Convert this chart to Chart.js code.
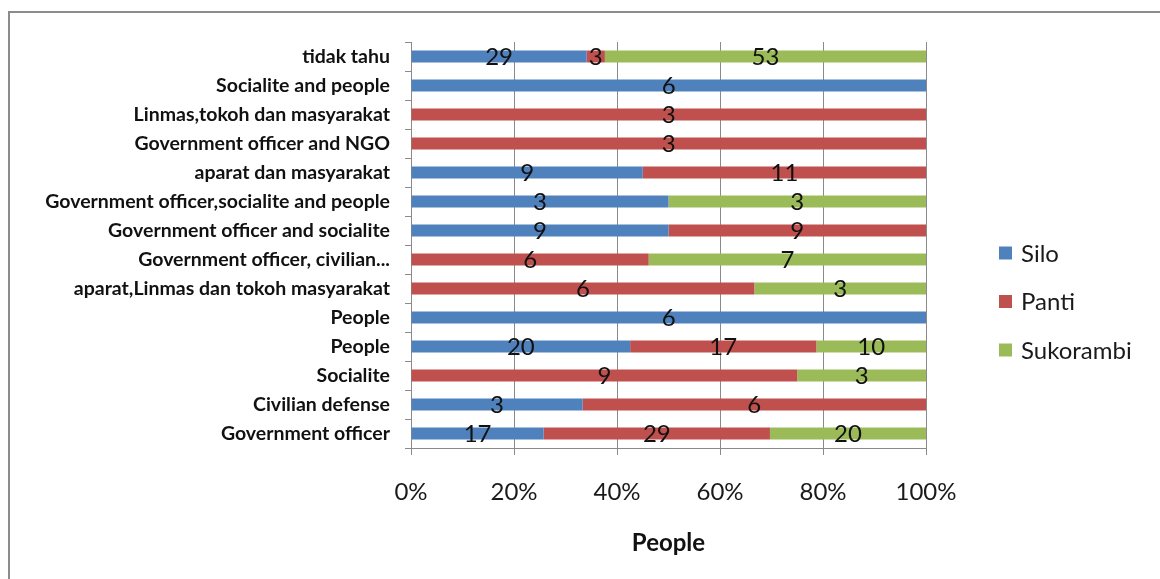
<!DOCTYPE html>
<html>
<head>
<meta charset="utf-8">
<script src="https://cdn.jsdelivr.net/npm/chart.js@4.4.1/dist/chart.umd.min.js"></script>
<style>
  html, body { margin: 0; padding: 0; background: #fff; overflow: hidden; }
  #wrap { position: relative; width: 1160px; height: 579px; }
  #frame { position: absolute; left: 8px; top: 11px; width: 1220px; height: 640px;
           border-left: 2px solid #8c8c8c; border-top: 2px solid #8c8c8c; box-sizing: border-box; }
  canvas { position: absolute; left: 0; top: 0; }
</style>
</head>
<body>
<div id="wrap">
  <div id="frame"></div>
  <canvas id="chart" width="1160" height="579"></canvas>
</div>
<script>
// Categories, listed from the top row down
const categories = [
  'tidak tahu',
  'Socialite and people',
  'Linmas,tokoh dan masyarakat',
  'Government officer and NGO',
  'aparat dan masyarakat',
  'Government officer,socialite and people',
  'Government officer and socialite',
  'Government officer, civilian...',
  'aparat,Linmas dan tokoh masyarakat',
  'People',
  'People',
  'Socialite',
  'Civilian defense',
  'Government officer'
];

// Counts per village (null = no answer in that village)
const silo      = [29, 6, null, null, 9, 3, 9, null, null, 6, 20, null, 3, 17];
const panti     = [3, null, 3, 3, 11, null, 9, 6, 6, null, 17, 9, 6, 29];
const sukorambi = [53, null, null, null, null, 3, null, 7, 3, null, 10, 3, null, 20];

const seriesNames = ['Silo', 'Panti', 'Sukorambi'];
const xTickValues = [0, 20, 40, 60, 80, 100];
const axisTitle = 'People';

const colors = ['#4F81BD', '#C0504D', '#9BBB59'];
const FONT = 'Lato';
const seriesCounts = [silo, panti, sukorambi];

// Row totals for the 100% stacking
const totals = categories.map((_, i) =>
  seriesCounts.reduce((s, arr) => s + (arr[i] || 0), 0));
const toShare = arr => arr.map((v, i) => v == null ? null : v / totals[i] * 100);

// Value labels centred on each segment
const valueLabels = {
  id: 'valueLabels',
  afterDatasetsDraw(chart) {
    const ctx = chart.ctx;
    ctx.save();
    ctx.font = `24px ${FONT}`;
    ctx.fillStyle = '#111';
    ctx.textAlign = 'center';
    ctx.textBaseline = 'alphabetic';
    chart.data.datasets.forEach((ds, di) => {
      const meta = chart.getDatasetMeta(di);
      meta.data.forEach((bar, i) => {
        const v = ds.counts[i];
        if (v == null) return;
        const cx = (bar.x + bar.base) / 2;
        ctx.fillText(String(v), cx, bar.y + 8.5);
      });
    });
    ctx.restore();
  }
};

// Legend column to the right of the plot
const sideLegend = {
  id: 'sideLegend',
  afterDraw(chart) {
    const ctx = chart.ctx;
    const ca = chart.chartArea;
    const mid = (ca.top + ca.bottom) / 2;
    ctx.save();
    ctx.font = `24px ${FONT}`;
    ctx.textAlign = 'left';
    ctx.textBaseline = 'alphabetic';
    chart.data.datasets.forEach((ds, i) => {
      const cy = mid + 8 + i * 48.5;
      ctx.fillStyle = ds.backgroundColor;
      ctx.fillRect(ca.right + 73, cy - 6.5, 13, 13);
      ctx.fillStyle = '#1a1a1a';
      ctx.fillText(ds.label, ca.right + 95, cy + 8.5);
    });
    ctx.restore();
  }
};

function build() {
  const datasets = seriesCounts.map((arr, k) => ({
    label: seriesNames[k],
    data: toShare(arr),
    counts: arr,
    backgroundColor: colors[k],
    borderWidth: 0,
    barPercentage: 0.41,
    categoryPercentage: 1.0
  }));

  new Chart(document.getElementById('chart'), {
    type: 'bar',
    data: { labels: categories, datasets },
    options: {
      indexAxis: 'y',
      responsive: false,
      animation: false,
      layout: { padding: { left: 0, right: 234, top: 42, bottom: 0 } },
      plugins: { legend: { display: false }, tooltip: { enabled: false } },
      scales: {
        x: {
          stacked: true,
          min: 0,
          max: 100,
          afterBuildTicks(scale) { scale.ticks = xTickValues.map(v => ({ value: v })); },
          afterFit(scale) { scale.height = 131; },
          ticks: {
            callback: v => v + '%',
            font: { family: FONT, size: 24 },
            color: '#1a1a1a',
            padding: 23,
            maxRotation: 0
          },
          grid: { color: '#8a8a8a', lineWidth: 1, tickLength: 7 },
          border: { color: '#8a8a8a', width: 1 },
          title: {
            display: true,
            text: axisTitle,
            font: { family: FONT, size: 24, weight: 'bold' },
            color: '#111',
            padding: { top: 0, bottom: 21 }
          }
        },
        y: {
          stacked: true,
          afterFit(scale) { scale.width = 411; },
          ticks: {
            font: { family: FONT, size: 19.5, weight: 'bold' },
            color: '#111',
            padding: 15,
            autoSkip: false
          },
          grid: { drawOnChartArea: false, tickLength: 6, color: '#8a8a8a', offset: true },
          border: { color: '#8a8a8a', width: 1 }
        }
      }
    },
    plugins: [valueLabels, sideLegend]
  });
}

if (document.fonts && document.fonts.load) {
  Promise.all([
    document.fonts.load(`24px ${FONT}`),
    document.fonts.load(`bold 20px ${FONT}`)
  ]).then(build, build);
} else {
  build();
}
</script>
</body>
</html>
